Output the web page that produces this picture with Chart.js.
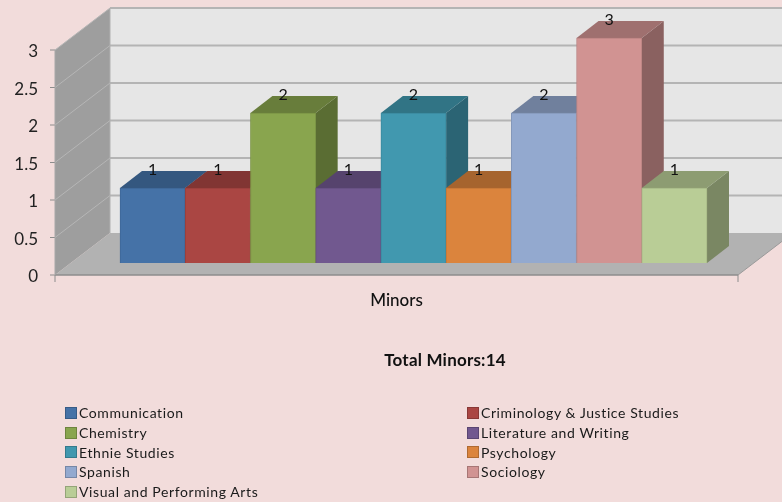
<!DOCTYPE html>
<html>
<head>
<meta charset="utf-8">
<title>Minors</title>
<script src="https://cdn.jsdelivr.net/npm/chart.js@4/dist/chart.umd.min.js"></script>
<style>
  html, body { margin: 0; padding: 0; background: #f2dcdb; }
  body { position: relative; width: 782px; height: 502px; overflow: hidden; font-family: Lato, sans-serif; color: #1a1a1a; }
  #chart { position: absolute; left: 0; top: 0; }
  #total { position: absolute; left: 345px; width: 200px; top: 351px; text-align: center; font-weight: 700; font-size: 17px; letter-spacing: .2px; line-height: 18px; color: #111; }
  #legend { position: absolute; left: 65px; top: 403px; display: grid; grid-template-columns: 402px 300px; grid-auto-rows: 19.7px; font-size: 14px; letter-spacing: .6px; }
  .item { display: flex; align-items: center; white-space: nowrap; }
  .swatch { width: 10px; height: 10px; margin-right: 2px; border: 1px solid; flex: none; }
</style>
</head>
<body>
<canvas id="chart" width="782" height="502"></canvas>
<div id="total"></div>
<div id="legend"></div>
<script>
const categories = ["Minors"];
const seriesNames = [
  "Communication", "Criminology & Justice Studies", "Chemistry", "Literature and Writing",
  "Ethnie Studies", "Psychology", "Spanish", "Sociology", "Visual and Performing Arts",
];
const seriesValues = [1, 1, 2, 1, 2, 1, 2, 3, 1];
const yTicks = [0, 0.5, 1, 1.5, 2, 2.5, 3];
const totalLabel = "Total Minors:14";

const PALETTE = [
  "#4572a7", "#aa4643", "#89a54e", "#71588f", "#4198af",
  "#db843d", "#93a9cf", "#d19392", "#b9cd96",
];

// depth of the bars and of the floor/walls
const BAR_DX = 22, BAR_DY = 17;
const WALL_DX = 55, WALL_DY = 42;
const FRONT_LEFT = 65, FRONT_RIGHT = 31, FRONT_DOWN = 12;

function shade(hex, f) {
  const n = parseInt(hex.slice(1), 16);
  const c = s => Math.round(((n >> s) & 255) * f);
  return `rgb(${c(16)},${c(8)},${c(0)})`;
}

function poly(ctx, pts, fill) {
  ctx.beginPath();
  pts.forEach(([x, y], i) => i ? ctx.lineTo(x, y) : ctx.moveTo(x, y));
  ctx.closePath();
  ctx.fillStyle = fill;
  ctx.fill();
}

function line(ctx, x1, y1, x2, y2, color, width) {
  ctx.beginPath();
  ctx.moveTo(x1, y1);
  ctx.lineTo(x2, y2);
  ctx.strokeStyle = color;
  ctx.lineWidth = width;
  ctx.stroke();
}

// ── walls, floor and grid ────────────────────────────────
function drawWalls(chart) {
  const { ctx, chartArea: a, scales: { y } } = chart;
  const fl = a.left - FRONT_LEFT, fr = a.right + FRONT_RIGHT;
  const fb = y.getPixelForValue(0) + FRONT_DOWN;
  const ft = y.getPixelForValue(3) + FRONT_DOWN;

  poly(ctx, [[fl + WALL_DX, ft - WALL_DY], [fr + WALL_DX, ft - WALL_DY], [fr + WALL_DX, fb - WALL_DY], [fl + WALL_DX, fb - WALL_DY]], "#e6e6e6");
  poly(ctx, [[fl, fb], [fl + WALL_DX, fb - WALL_DY], [fl + WALL_DX, ft - WALL_DY], [fl, ft]], "#9e9e9e");
  poly(ctx, [[fl, fb], [fr, fb], [fr + WALL_DX, fb - WALL_DY], [fl + WALL_DX, fb - WALL_DY]], "#b2b2b2");

  yTicks.forEach(v => {
    const py = y.getPixelForValue(v) + FRONT_DOWN;
    if (v > 0) {
      line(ctx, fl + WALL_DX, py - WALL_DY, fr + WALL_DX, py - WALL_DY, "#b4b4b4", 2);
      line(ctx, fl, py, fl + WALL_DX, py - WALL_DY, "#b6b6b6", 1);
    }
    line(ctx, fl - 5, py, fl, py, "#8c8c8c", 1);
  });
  line(ctx, fl + WALL_DX, ft - WALL_DY, fl + WALL_DX, fb - WALL_DY, "#b0b0b0", 1);
  line(ctx, fl, fb, fr, fb, "#8c8c8c", 1.5);
  line(ctx, fl, fb, fl, ft, "#a8a8a8", 1);
  line(ctx, fr, fb, fr + WALL_DX, fb - WALL_DY, "#9a9a9a", 1);
  line(ctx, fl, fb, fl, fb + 7, "#8c8c8c", 1);
  line(ctx, fr, fb, fr, fb + 7, "#8c8c8c", 1);
}

// ── the bars, left to right, so nearer faces overlap properly ──
const bars3d = {
  id: "bars3d",
  beforeDatasetsDraw: drawWalls,
  beforeDatasetDraw: () => false,
  afterDatasetsDraw(chart) {
    const { ctx } = chart;
    const base = chart.scales.y.getPixelForValue(0);
    chart.data.datasets.forEach((ds, i) => {
      const meta = chart.getDatasetMeta(i);
      const bar = meta.data[0];
      const half = bar.width / 2;
      const l = bar.x - half, r = bar.x + half, t = bar.y;
      poly(ctx, [[r, t], [r + BAR_DX, t - BAR_DY], [r + BAR_DX, base - BAR_DY], [r, base]], shade(PALETTE[i], 0.66));
      poly(ctx, [[l, t], [r, t], [r + BAR_DX, t - BAR_DY], [l + BAR_DX, t - BAR_DY]], shade(PALETTE[i], 0.76));
      meta.controller.draw();
    });
    ctx.font = "16px Lato, sans-serif";
    ctx.fillStyle = "#111";
    ctx.textAlign = "center";
    ctx.textBaseline = "middle";
    chart.data.datasets.forEach((ds, i) => {
      const bar = chart.getDatasetMeta(i).data[0];
      ctx.fillText(String(ds.data[0]), bar.x, bar.y - 18);
    });
  },
};

new Chart(document.getElementById("chart"), {
  type: "bar",
  data: {
    labels: categories,
    datasets: seriesNames.map((name, i) => ({
      label: name,
      data: [seriesValues[i]],
      backgroundColor: PALETTE[i],
      borderColor: shade(PALETTE[i], 0.9),
      borderWidth: 1,
      barPercentage: 1,
      categoryPercentage: 1,
    })),
  },
  options: {
    responsive: false,
    animation: false,
    layout: { padding: { top: 38, right: 75, bottom: 0, left: 0 } },
    plugins: { legend: { display: false }, tooltip: { enabled: false } },
    scales: {
      x: {
        grid: { display: false },
        border: { display: false },
        afterFit: s => { s.height = 239; s.paddingLeft = 0; s.paddingRight = 0; },
        ticks: {
          color: "#111",
          padding: 19,
          labelOffset: -17,
          maxRotation: 0,
          font: { family: "Lato", size: 17, weight: "500" },
        },
      },
      y: {
        min: 0,
        max: 3,
        grid: { display: false, drawTicks: false },
        border: { display: false },
        afterFit: s => { s.width = 120; s.paddingTop = 0; s.paddingBottom = 0; },
        afterBuildTicks: s => { s.ticks = yTicks.map(value => ({ value })); },
        ticks: {
          color: "#222",
          padding: 82,
          labelOffset: FRONT_DOWN + 2,
          callback: v => String(v),
          font: { family: "Lato", size: 17 },
        },
      },
    },
  },
  plugins: [bars3d],
});

document.getElementById("total").textContent = totalLabel;
document.getElementById("legend").innerHTML = seriesNames.map((name, i) =>
  `<div class="item"><span class="swatch" style="background:${PALETTE[i]};border-color:${shade(PALETTE[i], 0.8)}"></span>${name.replace("&", "&amp;")}</div>`
).join("");
</script>
</body>
</html>
